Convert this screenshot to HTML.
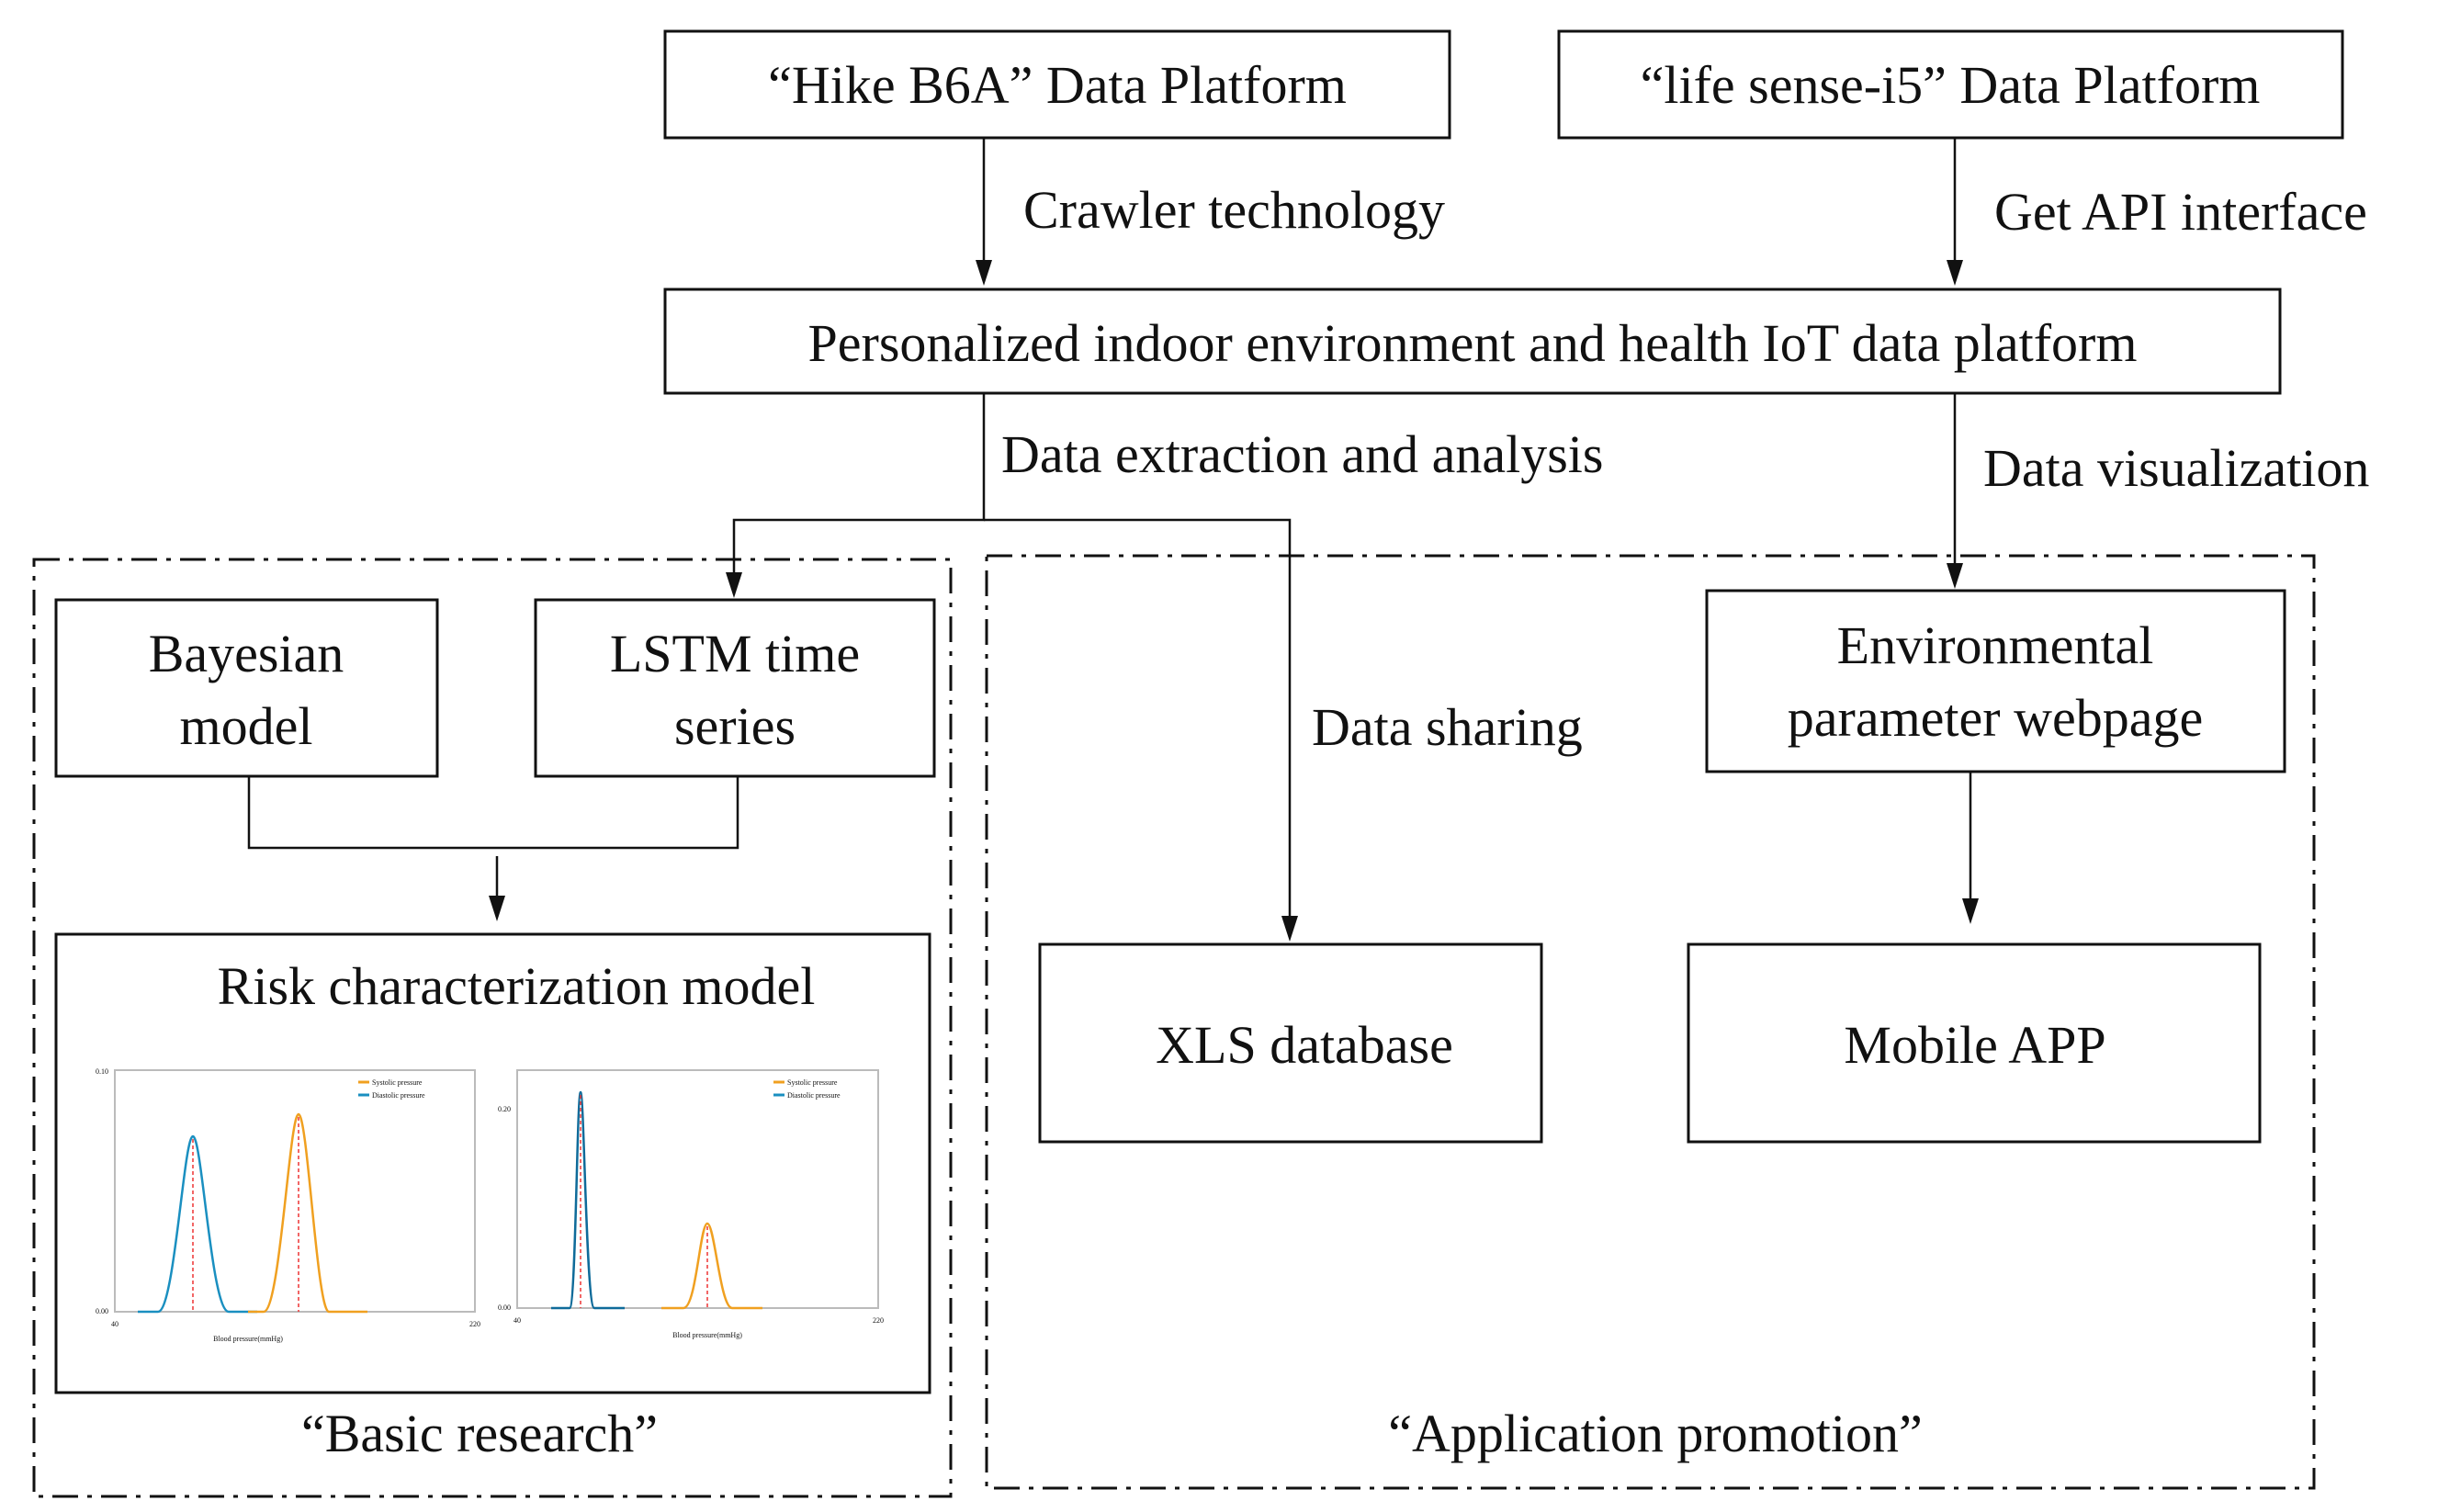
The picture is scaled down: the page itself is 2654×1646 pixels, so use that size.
<!DOCTYPE html>
<html><head><meta charset="utf-8"><style>
html,body{margin:0;padding:0;background:#fff;}
svg{display:block;}
text{font-family:"Liberation Serif",serif;fill:#111;}
</style></head><body>
<svg width="2654" height="1646" viewBox="0 0 2654 1646" xmlns="http://www.w3.org/2000/svg">
<defs>
<marker id="ar" markerWidth="10" markerHeight="12" refX="5" refY="12" orient="auto" markerUnits="userSpaceOnUse" viewBox="0 0 10 12">
</marker>
</defs>
<g fill="none" stroke="#111" stroke-width="3">
<rect x="724" y="34" width="854" height="116"/>
<rect x="1697" y="34" width="853" height="116"/>
<rect x="724" y="315" width="1758" height="113"/>
<rect x="61" y="653" width="415" height="192"/>
<rect x="583" y="653" width="434" height="192"/>
<rect x="61" y="1017" width="951" height="499"/>
<rect x="1858" y="643" width="629" height="197"/>
<rect x="1132" y="1028" width="546" height="215"/>
<rect x="1838" y="1028" width="622" height="215"/>
<rect x="37" y="609" width="998" height="1020" stroke-dasharray="28,10,5,10"/>
<rect x="1074" y="605" width="1445" height="1015" stroke-dasharray="28,10,5,10"/>
</g>
<g fill="none" stroke="#111" stroke-width="2.5">
<line x1="1071" y1="150" x2="1071" y2="285"/>
<line x1="2128" y1="150" x2="2128" y2="285"/>
<polyline points="1071,428 1071,566 799,566 799,625"/>
<polyline points="1071,566 1404,566 1404,999"/>
<line x1="2128" y1="428" x2="2128" y2="615"/>
<polyline points="271,845 271,923 803,923 803,845"/>
<line x1="541" y1="932" x2="541" y2="977"/>
<line x1="2145" y1="840" x2="2145" y2="980"/>
</g>
<g fill="#111">
<polygon points="1062,283 1080,283 1071,311"/>
<polygon points="2119,283 2137,283 2128,311"/>
<polygon points="790,623 808,623 799,651"/>
<polygon points="1395,997 1413,997 1404,1025"/>
<polygon points="2119,613 2137,613 2128,641"/>
<polygon points="532,975 550,975 541,1003"/>
<polygon points="2136,978 2154,978 2145,1006"/>
</g>
<g font-size="58">
<text x="1151" y="112" text-anchor="middle">“Hike B6A” Data Platform</text>
<text x="2123" y="112" text-anchor="middle">“life sense-i5” Data Platform</text>
<text x="1603" y="393" text-anchor="middle">Personalized indoor environment and health IoT data platform</text>
<text x="1114" y="248">Crawler technology</text>
<text x="2171" y="250">Get API interface</text>
<text x="1090" y="514">Data extraction and analysis</text>
<text x="2159" y="529">Data visualization</text>
<text x="268" y="731" text-anchor="middle">Bayesian</text>
<text x="268" y="810" text-anchor="middle">model</text>
<text x="800" y="731" text-anchor="middle">LSTM time</text>
<text x="800" y="810" text-anchor="middle">series</text>
<text x="562" y="1093" text-anchor="middle">Risk characterization model</text>
<text x="522" y="1580" text-anchor="middle">“Basic research”</text>
<text x="2172" y="722" text-anchor="middle">Environmental</text>
<text x="2172" y="801" text-anchor="middle">parameter webpage</text>
<text x="1428" y="811">Data sharing</text>
<text x="1420" y="1157" text-anchor="middle">XLS database</text>
<text x="2150" y="1157" text-anchor="middle">Mobile APP</text>
<text x="1802" y="1580" text-anchor="middle">“Application promotion”</text>
</g>
<!-- charts -->
<g fill="none" stroke-width="2">
<rect x="125" y="1165" width="392" height="263" stroke="#bbb"/>
<rect x="563" y="1165" width="393" height="259" stroke="#bbb"/>
</g>
<g fill="none" stroke-width="2.5">
<path d="M150,1428 L172,1428 C190,1428 200,1237 210,1237 C220,1237 230,1428 249,1428 L280,1428" stroke="#1a8fc0"/>
<path d="M270,1428 L287,1428 C305,1428 315,1213 325,1213 C335,1213 345,1428 358,1428 L400,1428" stroke="#f0a020"/>
<path d="M600,1424 L620,1424 C627,1424 628,1189 632,1189 C636,1189 638,1424 647,1424 L680,1424" stroke="#0f6b9a"/>
<path d="M720,1424 L744,1424 C758,1424 762,1332 770,1332 C778,1332 784,1424 797,1424 L830,1424" stroke="#f0a020"/>
</g>
<g stroke="#e33" stroke-width="1.5" stroke-dasharray="4,3">
<line x1="210" y1="1240" x2="210" y2="1428"/>
<line x1="325" y1="1216" x2="325" y2="1428"/>
<line x1="632" y1="1192" x2="632" y2="1424"/>
<line x1="770" y1="1335" x2="770" y2="1424"/>
</g>
<g stroke-width="3">
<line x1="390" y1="1178" x2="402" y2="1178" stroke="#f0a020"/>
<line x1="390" y1="1192" x2="402" y2="1192" stroke="#1a8fc0"/>
<line x1="842" y1="1178" x2="854" y2="1178" stroke="#f0a020"/>
<line x1="842" y1="1192" x2="854" y2="1192" stroke="#1a8fc0"/>
</g>
<g font-size="8" style="fill:#333">
<text x="405" y="1181">Systolic pressure</text>
<text x="405" y="1195">Diastolic pressure</text>
<text x="857" y="1181">Systolic pressure</text>
<text x="857" y="1195">Diastolic pressure</text>
<text x="270" y="1460" text-anchor="middle">Blood pressure(mmHg)</text>
<text x="770" y="1456" text-anchor="middle">Blood pressure(mmHg)</text>
<text x="125" y="1444" text-anchor="middle">40</text><text x="517" y="1444" text-anchor="middle">220</text>
<text x="563" y="1440" text-anchor="middle">40</text><text x="956" y="1440" text-anchor="middle">220</text>
<text x="118" y="1430" text-anchor="end">0.00</text><text x="118" y="1169" text-anchor="end">0.10</text>
<text x="556" y="1426" text-anchor="end">0.00</text><text x="556" y="1210" text-anchor="end">0.20</text>
</g>
</svg>
</body></html>
